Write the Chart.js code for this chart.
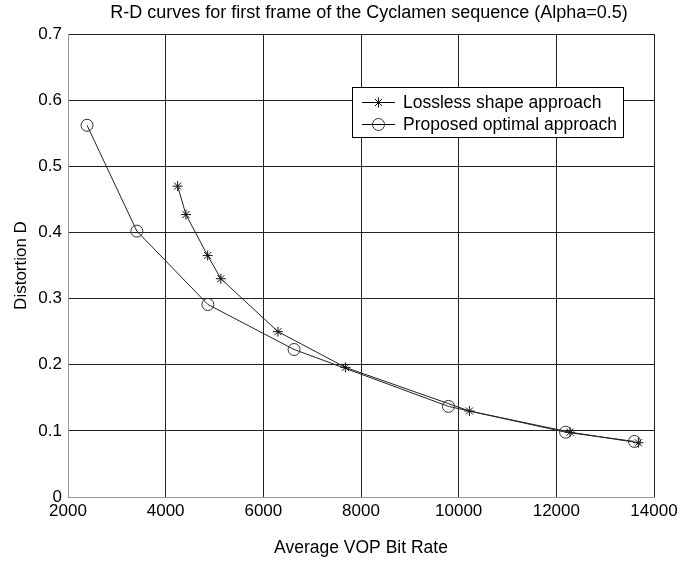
<!DOCTYPE html>
<html>
<head>
<meta charset="utf-8">
<script src="https://cdn.jsdelivr.net/npm/chart.js@4.4.1/dist/chart.umd.min.js"></script>
<style>
  html, body { margin: 0; padding: 0; background: #fff; }
  #wrap { width: 695px; height: 561px; }
</style>
</head>
<body>
<div id="wrap"><canvas id="rd"></canvas></div>
<script>
// values
var losslessRate = [4245, 4415, 4860, 5130, 6300, 7680, 10220, 12280, 13680];
var losslessDist = [0.470, 0.427, 0.365, 0.330, 0.250, 0.196, 0.130, 0.098, 0.082];

var optimalRate = [2390, 3410, 4865, 6630, 9790, 12190, 13600];
var optimalDist = [0.562, 0.402, 0.291, 0.223, 0.137, 0.098, 0.084];

var xTicks = [2000, 4000, 6000, 8000, 10000, 12000, 14000];
var yTicks = [0, 0.1, 0.2, 0.3, 0.4, 0.5, 0.6, 0.7];

var seriesNames = ['Lossless shape approach', 'Proposed optimal approach'];
var chartTitle = 'R-D curves for first frame of the Cyclamen sequence (Alpha=0.5)';

function toPoints(xs, ys) {
  var pts = [];
  for (var i = 0; i < xs.length; i++) pts.push({ x: xs[i], y: ys[i] });
  return pts;
}

var FONT = 'Liberation Sans, Arial, Helvetica, sans-serif';

// title sits a bit right of the canvas centre in the original, so draw it here
var topTitle = {
  id: 'topTitle',
  afterDraw: function (chart) {
    var ctx = chart.ctx;
    ctx.save();
    ctx.font = '18px ' + FONT;
    ctx.fillStyle = '#000';
    ctx.textAlign = 'center';
    ctx.textBaseline = 'middle';
    ctx.fillText(chartTitle, 369, 13);
    ctx.restore();
  }
};

// legend box inside the plot (white box, black frame)
var boxLegend = {
  id: 'boxLegend',
  afterDraw: function (chart) {
    var ctx = chart.ctx;
    var x0 = 352, y0 = 87, w = 271, h = 50;
    ctx.save();
    ctx.fillStyle = '#fff';
    ctx.fillRect(x0, y0, w, h);
    ctx.strokeStyle = '#000';
    ctx.lineWidth = 1;
    ctx.strokeRect(x0 + 0.5, y0 + 0.5, w, h);
    ctx.font = '17.5px ' + FONT;
    ctx.textBaseline = 'middle';
    chart.data.datasets.forEach(function (ds, i) {
      var cy = y0 + 15 + i * 22;
      ctx.strokeStyle = '#000';
      ctx.beginPath();
      ctx.moveTo(x0 + 10, cy + 0.5);
      ctx.lineTo(x0 + 43, cy + 0.5);
      ctx.stroke();
      ctx.fillStyle = 'rgba(0,0,0,0)';
      ctx.strokeStyle = ds.pointBorderColor;
      Chart.helpers.drawPoint(ctx, {
        pointStyle: ds.pointStyle, radius: ds.pointRadius, borderWidth: 1
      }, x0 + 26.5, cy + 0.5);
      ctx.fillStyle = '#000';
      ctx.fillText(ds.label, x0 + 51, cy + 1);
    });
    ctx.restore();
  }
};

new Chart(document.getElementById('rd'), {
  type: 'line',
  data: {
    datasets: [{
      label: seriesNames[0],
      data: toPoints(losslessRate, losslessDist),
      borderColor: '#222',
      backgroundColor: 'transparent',
      borderWidth: 1,
      pointStyle: 'star',
      pointRadius: 5,
      pointBorderColor: '#111',
      pointBorderWidth: 1,
      tension: 0
    }, {
      label: seriesNames[1],
      data: toPoints(optimalRate, optimalDist),
      borderColor: '#222',
      backgroundColor: 'transparent',
      borderWidth: 1,
      pointStyle: 'circle',
      pointRadius: 6,
      pointBorderColor: '#333',
      pointBackgroundColor: 'transparent',
      pointBorderWidth: 1,
      tension: 0
    }]
  },
  options: {
    responsive: true,
    maintainAspectRatio: false,
    animation: false,
    layout: { padding: { left: 0, right: 41, top: 34, bottom: 0 } },
    plugins: {
      legend: { display: false },
      tooltip: { enabled: false },
      title: { display: false }
    },
    scales: {
      x: {
        type: 'linear',
        min: xTicks[0],
        max: xTicks[xTicks.length - 1],
        afterBuildTicks: function (s) { s.ticks = xTicks.map(function (v) { return { value: v }; }); },
        afterFit: function (s) { s.height = 64; },
        ticks: {
          color: '#000',
          padding: 4,
          maxRotation: 0,
          font: { family: FONT, size: 17 },
          callback: function (v) { return String(v); }
        },
        grid: { color: '#222', lineWidth: 1, drawTicks: false },
        border: { color: '#999', width: 1 },
        title: {
          display: true,
          text: 'Average VOP Bit Rate',
          color: '#000',
          font: { family: FONT, size: 17.5 },
          padding: { bottom: 2 }
        }
      },
      y: {
        min: yTicks[0],
        max: yTicks[yTicks.length - 1],
        afterBuildTicks: function (s) { s.ticks = yTicks.map(function (v) { return { value: v }; }); },
        afterFit: function (s) { s.width = 68; },
        ticks: {
          color: '#000',
          padding: 6,
          font: { family: FONT, size: 17 },
          callback: function (v) { return String(Math.round(v * 10) / 10); }
        },
        grid: { color: '#222', lineWidth: 1, drawTicks: false },
        border: { color: '#999', width: 1 },
        title: {
          display: true,
          text: 'Distortion D',
          color: '#000',
          font: { family: FONT, size: 17 },
          padding: { top: 11 }
        }
      }
    }
  },
  plugins: [boxLegend, topTitle]
});
</script>
</body>
</html>
